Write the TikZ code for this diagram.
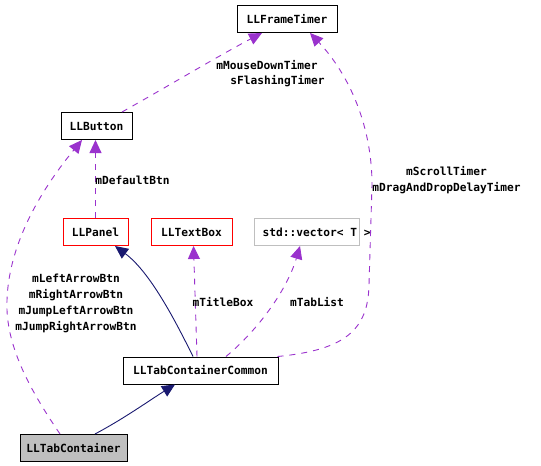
\documentclass[tikz,border=0pt]{standalone}
\usepackage{fontspec}
\newfontfamily\dxfont{DejaVu Sans Mono}
\usetikzlibrary{arrows.meta}
\definecolor{member}{HTML}{9A32CD}
\definecolor{inherit}{HTML}{191970}
\definecolor{boxgray}{HTML}{BFBFBF}

\begin{document}
\begin{tikzpicture}[x=1pt,y=-1pt,
  font=\dxfont\bfseries\fontsize{11.2}{16}\selectfont,
  cls/.style={draw=black,line width=1pt,minimum height=27pt,inner sep=0pt},
  redcls/.style={cls,draw=red},
  graycls/.style={cls,draw=boxgray},
  membedge/.style={draw=member,line width=0.9pt,dash pattern=on 6pt off 6pt,
    -{Triangle[length=13pt,width=12pt,fill=member]}},
  inhedge/.style={draw=inherit,line width=0.9pt,
    -{Triangle[length=13pt,width=12pt,fill=inherit]}},
  lbl/.style={inner sep=0pt,align=center}]
  \useasboundingbox (0,0) rectangle (541,466);

  \node[cls,minimum width=100pt] (frame) at (287,19) {LLFrameTimer};
  \node[cls,minimum width=71pt] (btn) at (96.5,126) {LLButton};
  \node[redcls,minimum width=65pt] (panel) at (95.5,232) {LLPanel};
  \node[redcls,minimum width=81pt] (txt) at (191.5,232) {LLTextBox};
  \node[graycls,minimum width=105pt] (vec) at (306.5,232) {};
  \node[anchor=west,inner sep=0pt] (vectxt) at ([xshift=9pt]vec.west) {std::vector< T >};
  \node[cls,minimum width=155pt] (tcc) at (200.5,370.5) {LLTabContainerCommon};
  \node[cls,fill=boxgray,minimum width=107pt] (tab) at (73.5,448) {LLTabContainer};

  % member links
  \draw[membedge] ([xshift=25.5pt]btn.north) .. controls (170,85) and (220,55) .. ([xshift=-25pt]frame.south);
  \draw[membedge] (panel.north) -- (panel.north |- btn.south);
  \draw[membedge] ([xshift=-13.5pt]tab.north) .. controls (30,390) and (5,345) .. (7,300)
    .. controls (9,240) and (45,185) .. ([xshift=-14.5pt]btn.south);
  \draw[membedge] ([xshift=-3.5pt]tcc.north) -- ([xshift=2pt]txt.south);
  \draw[membedge] ([xshift=25.5pt]tcc.north) .. controls (258,330) and (287,290) .. ([xshift=-6.5pt]vec.south);
  \draw[membedge] ([xshift=-1pt]tcc.north east) .. controls (345,350) and (368,330) .. (369,285)
    -- (372,185) .. controls (372,120) and (345,70) .. ([xshift=23pt]frame.south);

  % inheritance
  \draw[inhedge] ([xshift=-7.5pt]tcc.north) .. controls (175,320) and (150,272) .. ([xshift=19.5pt]panel.south);
  \draw[inhedge] ([xshift=21.5pt]tab.north) .. controls (125,418) and (150,400) .. ([xshift=-25.5pt]tcc.south);

  \node[lbl] (lblmouse) at (267,65) {mMouseDownTimer};
  \node[lbl] (lblflash) at (277.5,81) {sFlashingTimer};
  \node[lbl] (lbldefault) at (132.5,180) {mDefaultBtn};
  \node[lbl] (lblarrows) at (76,303) {mLeftArrowBtn\\mRightArrowBtn\\mJumpLeftArrowBtn\\mJumpRightArrowBtn};
  \node[lbl] (lbltitle) at (223,302) {mTitleBox};
  \node[lbl] (lbltablist) at (317,302) {mTabList};
  \node[lbl] (lblscroll) at (446.5,180) {mScrollTimer\\mDragAndDropDelayTimer};
\end{tikzpicture}
\end{document}
